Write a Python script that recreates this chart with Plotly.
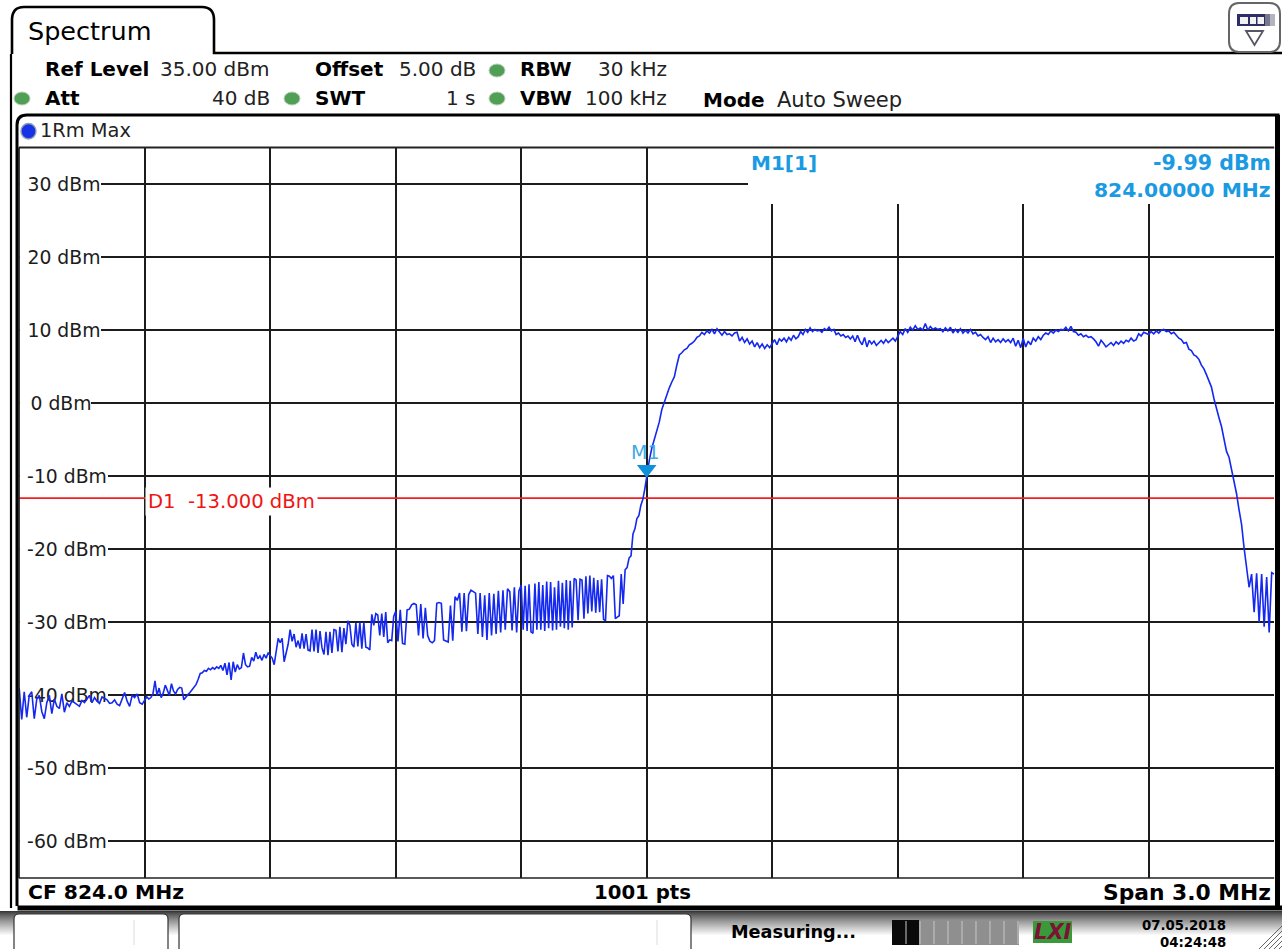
import numpy as np
import plotly.graph_objects as go

W, H = 1282, 949
FONT = "DejaVu Sans"
BLUE_TXT = "#1b9ae2"

# --- data -------------------------------------------------------------
START_MHZ, STOP_MHZ = 822.5, 825.5
DIV_MHZ = 0.3
LIMIT_DBM = -13.0
MARKER_MHZ, MARKER_DBM = 824.0, -9.99
Y_LEVELS = [30, 20, 10, 0, -10, -20, -30, -40, -50, -60]
Y_LABELS = ["30 dBm", "20 dBm", "10 dBm", "0 dBm", "-10 dBm", "-20 dBm", "-30 dBm", "-40 dBm", "-50 dBm", "-60 dBm"]

div1 = [-39, -43.3, -39.5, -43, -40, -39.5, -43.2, -40.5, -40, -42.2, -43.2, -41, -40, -42.5, -40.5, -41.5, -41.8,
        -39.8, -42.3, -41, -41.5, -40.8, -41, -41.2, -41.5, -40.7, -41, -40.5, -40, -41, -40.3, -40.8, -41.1, -40.2,
        -40.4, -40.6, -41.1, -41, -40.6, -41.2, -41.4, -40.5, -39.6, -40.8, -41.5, -40, -40.3, -39.8, -41, -41.2]
div2 = [-40.6, -40.2, -40.5, -40.3, -39.8, -38, -40, -39, -40.3, -39.7, -38.6, -39.2, -40, -38.4, -39.4, -39.8, -39.2,
        -38.9, -39, -40.6, -40.2, -39.9, -39.6, -39.2, -38.9, -38.5, -37.8, -37, -36.9, -36.6, -36.7, -36.3, -36.5,
        -36.2, -36.4, -36.1, -36.3, -35.9, -36.6, -35.6, -37.2, -35.5, -37.9, -35.4, -36.8, -35.8, -36.4, -36.2, -34.2,
        -35.8, -36.1, -36, -34.8, -35.3, -34.1, -35, -34.6, -35.2, -34.4, -34.9, -34.2]
div3 = [-34.6, -34.9, -35.8, -34, -32.2, -32.8, -32.2, -35.4, -34, -33, -31, -32.6, -31.6, -33.4, -32.5, -33.6,
        -31.5, -33.6, -31.6, -33.8, -33.9, -31, -34, -31, -34.2, -31.2, -33.5, -34.4, -31.3, -34.5, -31.3, -34.2, -31,
        -31.1, -34, -30.6, -34.1, -30.8, -33, -29.8, -30.4, -33, -33.4, -30.1, -33.3, -30, -33.6, -30, -33.4, -33.5,
        -33.8, -28.9, -30.4, -28.8, -29, -31.8, -28.8, -32, -28.6, -32.8, -32.4, -32.5, -29.2]
div4 = [-28.5, -32.6, -28.3, -32.9, -33, -28.3, -28.2, -27.6, -27.4, -27.6, -31.8, -27.5, -32.2, -28, -31.8, -32.6,
        -32.8, -32.5, -27.4, -27.3, -27.4, -32.4, -32.6, -32.7, -27.7, -32.5, -26.5, -27, -26, -31.3, -26, -31.2, -26.2,
        -25.6, -25.8, -26, -31.6, -26, -32, -26.3, -32.4, -26, -31.8, -26.1, -31.6, -25.7, -31.4, -25.6, -31, -25.4,
        -25.8, -31.1, -25.2, -31.4, -25.7]
div5 = [-24.9, -31, -25, -31.2, -24.8, -31.3, -31.5, -24.7, -31, -24.5, -31, -24.9, -31.2, -24.4, -30.8, -24.5, -31.1,
        -25.2, -31, -24.3, -30.6, -24.6, -30.8, -24.2, -31, -24.3, -30.7, -24, -24.2, -29.7, -24.1, -24.2, -29.5, -23.7,
        -28.8, -23.6, -28.5, -23.9, -28.7, -24.2, -28.6, -24.1, -29.6, -29.8, -23.6, -23.7, -24, -23.6, -29.5, -29.3,
        -29.1, -23.4, -27.5, -22.8, -22.5, -21.2, -20.9, -17.9, -17.2, -15.8, -15.4, -14, -13.2, -11.8]
div6 = [-9.99, -7.9, -6.2, -5, -3.6, -2.6, -0.9, 0.1, 1.4, 2.1, 2.9, 3.6, 5.2, 6.6, 6.9, 7.3, 7.5, 8, 8.2, 8.5, 9, 9.2,
        9.7, 9.4, 9.9, 9.6, 10.1, 9.5, 10.2, 9.7, 9.3, 9.8, 9.4, 9.5, 9.2, 9.6, 9.7, 8.5, 9, 8.3, 8.8, 8.1, 8.5, 7.7,
        8.3, 7.6, 8.1, 7.5, 8, 7.6]
div7 = [8.2, 8.7, 8, 8.8, 8.5, 8.9, 8.4, 9, 8.6, 9.3, 8.8, 9.1, 9.8, 9.4, 10.1, 9.7, 10.3, 9.8, 10.1, 9.9, 10, 9.7, 10.2,
        10, 10.4, 9.9, 10.1, 9.4, 9.6, 9.2, 9.4, 9, 9.2, 8.8, 9.2, 8.4, 9.3, 8.5, 8, 9, 7.7, 8.6, 8.1, 8.5, 7.9, 8.3,
        8.6, 8.2, 8.7, 8.3, 8.6, 8.9, 8.5]
div8 = [9.2, 9.8, 9.4, 10.2, 9.7, 10.4, 10, 10.6, 10.1, 10.3, 10, 10.9, 10, 10.5, 10.1, 10.3, 10.1, 10.2, 9.8, 10.3, 9.9,
        10.4, 9.6, 10.1, 9.7, 10.2, 9.6, 10, 9.6, 10.1, 9.5, 9.7, 9.2, 9.4, 9, 8.7, 9.1, 8.3, 8.9, 8.4, 8.7, 8.3, 8.8,
        8.4, 8.7, 8.3, 8.9, 7.8, 8.6, 7.6]
div9 = [8.9, 7.7, 8.5, 8, 8.9, 8.5, 9.1, 8.7, 9.3, 9.6, 9.4, 9.9, 9.6, 10, 9.8, 10.1, 10, 10.4, 9.9, 10.5, 9.8, 9.7, 9.3,
        9.5, 9.1, 9.3, 9, 9.1, 8.8, 8.4, 7.8, 8.6, 8.2, 7.7, 8, 8.3, 7.9, 8.4, 8.1, 8.5, 8.2, 8.6, 8.4, 8.9, 8.5, 8.7,
        9.5, 9.2, 9.7, 9.5]
div10 = [9.4, 9.8, 9.5, 9.9, 9.6, 10, 10.1, 9.8, 9.9, 9.5, 9.7, 9.3, 8.9, 8.7, 8.2, 8.3, 7.4, 7.2, 6.6, 6.4, 6, 5.2, 4.7,
         3.9, 3.1, 2.2, 0.6, -0.9, -2, -3.2, -4.8, -6.6, -7.4, -9, -10.5, -12.4, -14.6, -16.6, -19.8, -22.8, -25.2,
         -23.4, -28.6, -23.3, -30, -23.4, -30.6, -23.8, -31.4, -23.2, -23.4]
DIVISIONS = [div1, div2, div3, div4, div5, div6, div7, div8, div9, div10]

HEADER_BOLD = [("Ref Level", 44, 69), ("Offset", 314, 69), ("RBW", 519, 69), ("Att", 44, 98), ("SWT", 314, 98),
               ("VBW", 519, 98), ("Mode", 702, 100)]
HEADER_VALUES = [("35.00 dBm", 271, 69, 20), ("5.00 dB", 477, 69, 20), ("30 kHz", 668, 69, 20), ("40 dB", 271, 98, 20),
                 ("1 s", 477, 98, 20), ("100 kHz", 668, 98, 20), ("Auto Sweep", 903, 100, 21)]
GREEN_LEDS = [(497, 70), (22, 98), (292, 98), (497, 98)]

# --- trace assembly ---------------------------------------------------
freq, level = [], []
for i, vals in enumerate(DIVISIONS):
    a = START_MHZ + i * DIV_MHZ
    freq.extend(np.linspace(a, a + DIV_MHZ, len(vals), endpoint=i == len(DIVISIONS) - 1).tolist())
    level.extend(vals)

# --- pixel helpers for the instrument frame ---------------------------
PL, PR, PT, PB = 19.2, 1274.2, 147.5, 878.0
px = lambda x: x / W
py = lambda y: 1 - y / H
mhz = lambda x: START_MHZ + (x - PL) / (PR - PL) * (STOP_MHZ - START_MHZ)
dbm = lambda y: 35 - (y - PT) / (PB - PT) * 100


def path(*cmds):
    out = []
    for c in cmds:
        if isinstance(c, str):
            out.append(c)
        else:
            out.append(f"{px(c[0]):.5f},{py(c[1]):.5f}")
    return " ".join(out)


shapes = []


def pshape(kind, x0, y0, x1, y1, fill=None, line=None, lw=0, layer="above"):
    shapes.append(dict(type=kind, xref="paper", yref="paper", x0=px(x0), x1=px(x1), y0=py(y0), y1=py(y1),
                       fillcolor=fill, line=dict(color=line or "rgba(0,0,0,0)", width=lw), layer=layer))


def ppath(d, fill=None, line="black", lw=2, layer="above"):
    shapes.append(dict(type="path", xref="paper", yref="paper", path=d, fillcolor=fill,
                       line=dict(color=line, width=lw), layer=layer))


# white patches over the grid, in data coordinates, between grid and traces
label_ends = [101, 101, 101, 91, 108, 108, 108, 108, 108, 108]
label_mid = [64, 64, 64, 61, 67, 67, 67, 67, 67, 67]
for lev, end in zip(Y_LEVELS, label_ends):
    shapes.append(dict(type="rect", xref="x", yref="y", x0=START_MHZ, x1=mhz(end), y0=lev - 1.4, y1=lev + 1.4,
                       fillcolor="white", line=dict(width=0), layer="between"))
shapes.append(dict(type="rect", xref="x", yref="y", x0=mhz(748), x1=STOP_MHZ, y0=dbm(204), y1=35,
                   fillcolor="white", line=dict(width=0), layer="between"))

# status bar gradient
for k, y in enumerate(range(911, 949)):
    g = min(255, int(55 + (k / 24) ** 0.8 * 200))
    pshape("rect", 0, y, W, y + 1.2, fill=f"rgb({g},{g},{g})", layer="below")

# tab and frames
ppath(path("M", (12, 54), "L", (12, 20), "Q", (12, 7), (24, 7), "L", (202, 7), "Q", (214, 7), (214, 20), "L", (214, 53),
           "L", (1282, 53)), lw=2.6)
ppath(path("M", (11, 54), "L", (11, 908)), lw=2.2)
ppath(path("M", (17, 906), "L", (17, 125), "Q", (17, 115), (27, 115), "L", (1278, 115), "L", (1278, 908)), lw=3)
ppath(path("M", (17.5, 908), "L", (1282, 908)), lw=5)
pshape("rect", 1275, 115, 1280, 908, fill="black")
ppath(path("M", (19, PT), "L", (PR, PT)), lw=2, line="#222")
ppath(path("M", (19, PB), "L", (PR, PB)), lw=1.4, line="#222")
ppath(path("M", (19, PT), "L", (19, PB)), lw=1.6, line="#111")

# LEDs
for (cx, cy) in GREEN_LEDS:
    pshape("circle", cx - 8, cy - 6, cx + 8, cy + 7, fill="#4f9f55", line="#b9cdb9", lw=1)
pshape("circle", 21, 123.5, 36, 139, fill="#1733e6", line="#8f9fb5", lw=1.4)

# top-right button
ppath(path("M", (1239, 3), "L", (1269, 3), "Q", (1280, 3), (1280, 14), "L", (1280, 41), "Q", (1280, 52), (1269, 52),
           "L", (1239, 52), "Q", (1229, 52), (1229, 41), "L", (1229, 14), "Q", (1229, 3), (1239, 3)),
      fill="white", line="#666", lw=2)
pshape("rect", 1237, 14, 1265, 26, fill="#2e2e66")
pshape("rect", 1265, 14, 1270, 26, fill="#77778f")
pshape("rect", 1270, 14, 1275, 26, fill="#b4b4c0")
for a, b in [(1240, 1248), (1250, 1256), (1257.5, 1264)]:
    pshape("rect", a, 17, b, 24, fill="#f2f2f2")
ppath(path("M", (1246, 31), "L", (1263, 31), "L", (1254.5, 45), "Z"), fill="white", line="#556", lw=1.8)

# status bar boxes
for a, b, v in [(14, 168, 134), (179, 691, 657)]:
    ppath(path("M", (a, 949), "L", (a, 919), "Q", (a, 914), (a + 5, 914), "L", (b - 5, 914), "Q", (b, 914), (b, 919),
               "L", (b, 949)), fill="white", line="#333", lw=1.2)
    ppath(path("M", (v, 920), "L", (v, 945)), line="#dcdcdc", lw=1)

# progress bar
pshape("rect", 892, 920, 1019, 945, fill="#8f8f8f")
pshape("rect", 892, 920, 919, 945, fill="#0a0a0a")
for sx in range(906, 1019, 14):
    ppath(path("M", (sx, 921), "L", (sx, 944)), line="#c8c8c8", lw=1)

# LXI badge
pshape("rect", 1033, 921, 1072, 943, fill="#3a9a3a")

# resize hatch
for d in range(0, 24, 5):
    ppath(path("M", (1259 + d, 949), "L", (1282, 926 + d)), line="#666", lw=1)

# --- text -------------------------------------------------------------
ann = []


def T(text, x, y, size=20, color="black", anchor="left", bold=False, bg=None, pad=0):
    ann.append(dict(text=f"<b>{text}</b>" if bold else text, xref="paper", yref="paper", x=px(x), y=py(y),
                    xanchor=anchor, yanchor="middle", showarrow=False, bgcolor=bg, borderpad=pad,
                    font=dict(family=FONT, size=size, color=color)))


T("Spectrum", 27, 31, size=25.5)
for s, x, y in HEADER_BOLD:
    T(s, x, y, size=20, bold=True)
for s, x, y, sz in HEADER_VALUES:
    T(s, x, y, size=sz, anchor="right", color="#222")
T("1Rm Max", 39, 131, size=19.4, color="#222")
T("M1[1]", 750, 163, size=20, color=BLUE_TXT, bold=True)
T("-9.99 dBm", 1272, 163, size=20.5, color=BLUE_TXT, bold=True, anchor="right")
T("824.00000 MHz", 1272, 190, size=20.3, color=BLUE_TXT, bold=True, anchor="right")
T("M1", 645, 452, size=19, color="#3fa9e6", anchor="center")
T("D1\u00a0\u00a0-13.000 dBm", 231.5, 501, size=19.6, color="#f01414", anchor="center", bg="white", pad=2)
T("CF 824.0 MHz", 27, 892, size=20.3, bold=True)
T("1001 pts", 642.5, 892, size=19.7, bold=True, anchor="center")
T("Span 3.0 MHz", 1272, 892, size=21.8, bold=True, anchor="right")
T("Measuring...", 730, 932, size=17.7, bold=True)
T("07.05.2018", 1227, 925, size=13.3, bold=True, anchor="right")
T("04:24:48", 1227, 942, size=13.3, bold=True, anchor="right")
T("<i><b>LXI</b></i>", 1052.5, 932, size=21, color="#7c1236", anchor="center")

# --- figure -----------------------------------------------------------
fig = go.Figure()
# label centres sit two pixels under their data level once drawn
fig.add_trace(go.Scatter(x=[mhz(m) for m in label_mid], y=[v - 0.27 for v in Y_LEVELS], text=Y_LABELS, mode="text",
                         textposition="middle center", hoverinfo="skip", showlegend=False,
                         textfont=dict(family=FONT, size=18.8, color="#1c1c1c")))
fig.add_trace(go.Scatter(x=[START_MHZ, STOP_MHZ], y=[LIMIT_DBM, LIMIT_DBM], mode="lines", showlegend=False,
                         line=dict(color="#f42020", width=1.8), hoverinfo="skip"))
fig.add_trace(go.Scatter(x=freq, y=level, mode="lines", showlegend=False,
                         line=dict(color="#1428f0", width=1.6), name="1Rm Max"))
fig.add_trace(go.Scatter(x=[MARKER_MHZ], y=[MARKER_DBM + 0.95], mode="markers", showlegend=False,
                         marker=dict(symbol="triangle-down", size=17, color="#0f90da", line=dict(width=0))))

axis = dict(showticklabels=False, ticks="", zeroline=False, showline=False, gridcolor="#1c1c1c", gridwidth=1.8)
fig.update_layout(
    width=W, height=H, margin=dict(l=0, r=0, t=0, b=0), paper_bgcolor="white", plot_bgcolor="white",
    xaxis=dict(range=[START_MHZ, STOP_MHZ], tick0=START_MHZ, dtick=DIV_MHZ, domain=[PL / W, PR / W], **axis),
    yaxis=dict(range=[-65, 35], tick0=0, dtick=10, domain=[1 - PB / H, 1 - PT / H], **axis),
    shapes=shapes, annotations=ann, showlegend=False,
)
fig.write_html("out.html", config={"displayModeBar": False},
               post_script="document.body.style.margin='0';document.documentElement.style.overflow='hidden';")
